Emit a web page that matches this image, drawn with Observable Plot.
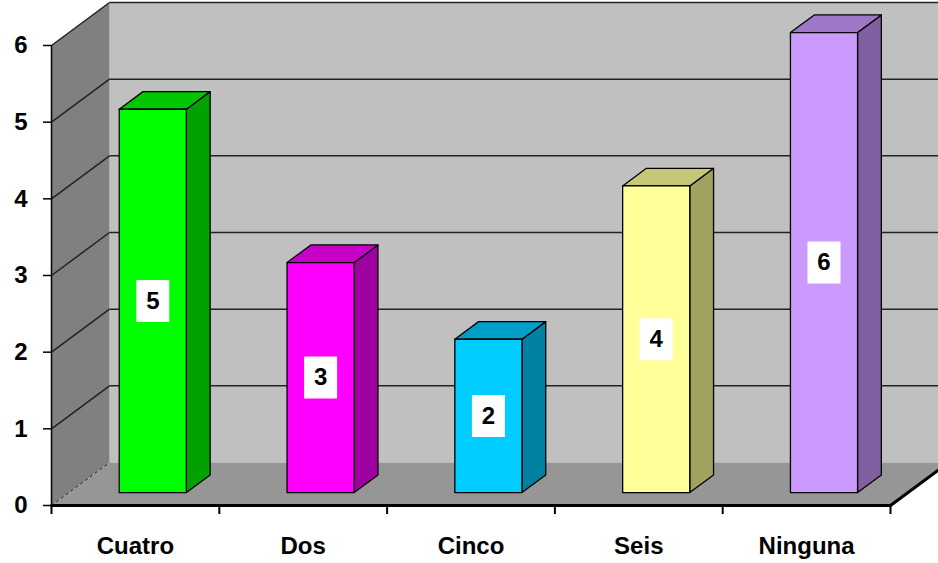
<!DOCTYPE html>
<html>
<head>
<meta charset="utf-8">
<script src="https://cdn.jsdelivr.net/npm/d3@7"></script>
<script src="https://cdn.jsdelivr.net/npm/@observablehq/plot@0.6"></script>
<style>
  html, body { margin: 0; padding: 0; background: #ffffff; }
  #chart svg { display: block; }
</style>
</head>
<body>
<div id="chart"></div>
<script>
// Categories, values and bar colours
const categories = ["Cuatro", "Dos", "Cinco", "Seis", "Ninguna"];
const values = [5, 3, 2, 4, 6];
const faceColors = ["#00ff00", "#ff00ff", "#00ccff", "#ffff99", "#cc99ff"];
const yTicks = [0, 1, 2, 3, 4, 5, 6];

// 3D box geometry in data units: depth vector of the plot box
const kx = 0.3457, ky = 0.561;
const dFront = 0.3, dBack = 0.71, halfWidth = 0.2;
const nCat = categories.length;
const yMax = yTicks[yTicks.length - 1];

const shade = (c, k) => {
  const r = d3.rgb(c);
  return d3.rgb(r.r * k, r.g * k, r.b * k).formatHex();
};
const pts = (list) => list.map(([x, y]) => ({x, y}));
const face = (list, fill, extra = {}) =>
  Plot.line(pts(list), {x: "x", y: "y", curve: "linear-closed", fill, stroke: "#000", strokeWidth: 1.3, strokeLinejoin: "round", ...extra});

// Walls and floor
const walls = [
  face([[kx, ky], [nCat + kx + 0.3, ky], [nCat + kx + 0.3, yMax + ky], [kx, yMax + ky]], "#c0c0c0", {stroke: "none"}),
  face([[0, 0], [kx, ky], [kx, yMax + ky], [0, yMax]], "#808080", {stroke: "none"}),
  face([[0, 0], [nCat, 0], [nCat + kx, ky], [kx, ky]], "#969696", {stroke: "none"})
];

// Gridlines on the back and side walls
const gridRows = yTicks.filter(t => t > 0);
const gridMarks = [
  Plot.link(gridRows, {x1: kx, y1: t => t + ky, x2: nCat + kx + 0.3, y2: t => t + ky, stroke: "#222", strokeWidth: 1.5}),
  Plot.link(gridRows, {x1: 0, y1: t => t, x2: kx, y2: t => t + ky, stroke: "#222", strokeWidth: 1.5}),
  Plot.link([0], {x1: 0, y1: 0, x2: kx, y2: ky, stroke: "#222", strokeWidth: 1, strokeDasharray: "3,3"})
];

// Bars: side, top and front faces
const barMarks = [];
categories.forEach((c, i) => {
  const v = values[i];
  const col = faceColors[i];
  const xl = i + 0.5 - halfWidth, xr = i + 0.5 + halfWidth;
  const fx = dFront * kx, fy = dFront * ky, bx = dBack * kx, by = dBack * ky;
  barMarks.push(face([[xr + fx, fy], [xr + bx, by], [xr + bx, v + by], [xr + fx, v + fy]], shade(col, 0.63)));
  barMarks.push(face([[xl + fx, v + fy], [xr + fx, v + fy], [xr + bx, v + by], [xl + bx, v + by]], shade(col, 0.78)));
  barMarks.push(face([[xl + fx, fy], [xr + fx, fy], [xr + fx, v + fy], [xl + fx, v + fy]], col));
});

// Value labels on the front faces
const labelData = categories.map((c, i) => ({
  x: i + 0.5 + dFront * kx,
  y: values[i] / 2 + dFront * ky,
  v: values[i]
}));
const boxSymbol = {draw(context) { context.rect(-16.5, -21, 33, 42); }};

const chart = Plot.plot({
  width: 938,
  height: 563,
  marginLeft: 51,
  marginRight: 48,
  marginTop: 45,
  marginBottom: 58,
  style: {fontFamily: "'Liberation Sans', Arial, sans-serif", background: "#ffffff", color: "#000"},
  x: {domain: [0, nCat], axis: null},
  y: {domain: [0, yMax], axis: null},
  marks: [
    ...walls,
    ...gridMarks,
    ...barMarks,
    Plot.dot(labelData, {x: "x", y: "y", symbol: boxSymbol, r: 10, fill: "#ffffff", stroke: "none"}),
    Plot.text(labelData, {x: "x", y: "y", text: d => String(d.v), fontSize: 24, fontWeight: "bold", fill: "#000"}),
    // floor front and right edges
    Plot.line(pts([[0, 0], [nCat, 0], [nCat + kx, ky]]), {x: "x", y: "y", stroke: "#000", strokeWidth: 3}),
    // y axis
    Plot.ruleX([0], {y1: 0, y2: yMax, stroke: "#000", strokeWidth: 1.5}),
    Plot.axisY({ticks: yTicks, tickSize: 8, tickPadding: 16, tickFormat: d => String(d), fontSize: 24, fontWeight: "bold", label: null, strokeWidth: 1.5}),
    // category boundary ticks and names
    Plot.axisX({ticks: d3.range(nCat + 1), tickSize: 9, tickFormat: () => "", label: null, strokeWidth: 2}),
    Plot.axisX({ticks: d3.range(nCat).map(i => i + 0.5), tickSize: 0, tickPadding: 31, tickFormat: d => categories[Math.floor(d)], fontSize: 24, fontWeight: "bold", label: null})
  ]
});

document.getElementById("chart").appendChild(chart);
</script>
</body>
</html>
